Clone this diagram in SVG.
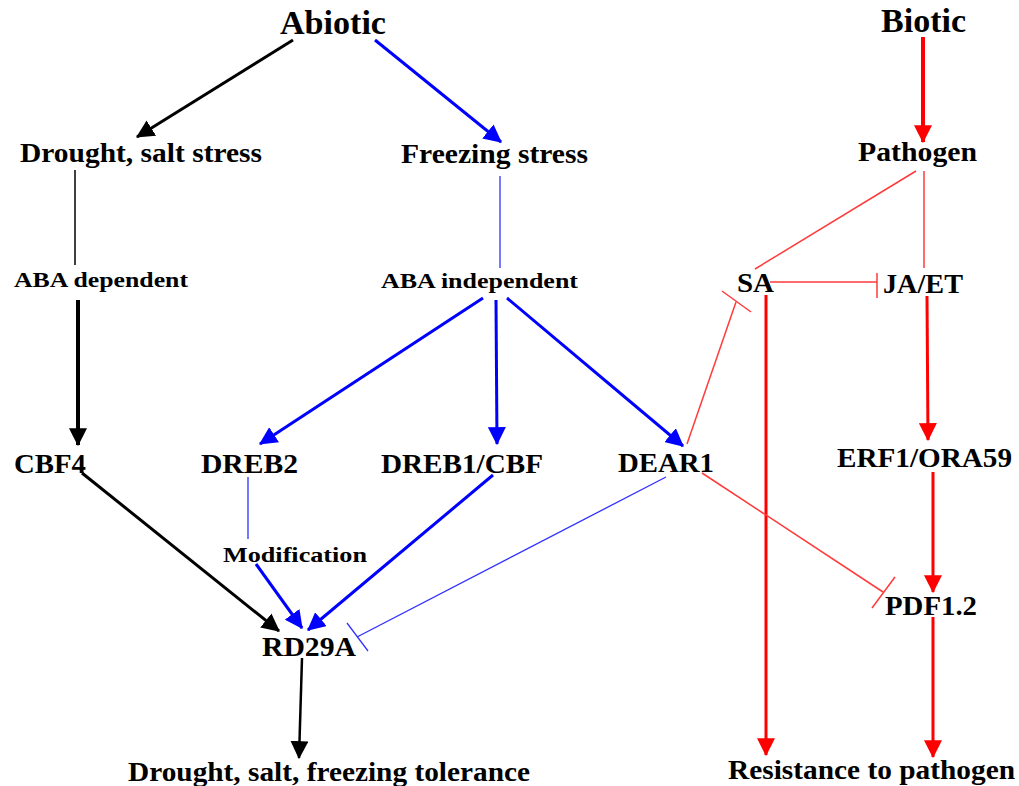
<svg xmlns="http://www.w3.org/2000/svg" width="1019" height="786" viewBox="0 0 1019 786">
<style>
text{font-family:"Liberation Serif","Times New Roman",serif;font-weight:bold;fill:#000;text-anchor:middle}
.big{font-size:33px}
.n{font-size:27px}
.s{font-size:22px}
.k{stroke:#000;fill:none}
.b{stroke:#0000ff;fill:none}
.r{stroke:#ff0000;fill:none}
.tb{stroke:#3030ff;stroke-width:1.3;fill:none}
.tr{stroke:#ff3a3a;stroke-width:1.5;fill:none}
.tk{stroke:#000;stroke-width:1.5;fill:none}
</style>
<defs>
<marker id="ak" markerUnits="userSpaceOnUse" markerWidth="18" markerHeight="18" refX="15" refY="8" orient="auto" viewBox="0 0 16 16"><path d="M0,0 L16,8 L0,16 z" fill="#000"/></marker>
<marker id="ab" markerUnits="userSpaceOnUse" markerWidth="18" markerHeight="18" refX="15" refY="8" orient="auto" viewBox="0 0 16 16"><path d="M0,0 L16,8 L0,16 z" fill="#0000ff"/></marker>
<marker id="ar" markerUnits="userSpaceOnUse" markerWidth="18" markerHeight="18" refX="15" refY="8" orient="auto" viewBox="0 0 16 16"><path d="M0,0 L16,8 L0,16 z" fill="#ff0000"/></marker>
</defs>
<rect width="1019" height="786" fill="#fff"/>
<g id="connectors">
<line class="k" stroke-width="3" x1="293" y1="40" x2="137" y2="137" marker-end="url(#ak)"/>
<line class="b" stroke-width="3" x1="375" y1="40" x2="501" y2="142" marker-end="url(#ab)"/>
<line class="r" stroke-width="4" x1="923" y1="37" x2="923" y2="142" marker-end="url(#ar)"/>
<line class="tk" x1="75" y1="170" x2="75" y2="265"/>
<line class="tb" x1="500" y1="176" x2="500" y2="268"/>
<line class="k" stroke-width="4" x1="78" y1="300" x2="78" y2="445" marker-end="url(#ak)"/>
<line class="b" stroke-width="3" x1="483" y1="298" x2="260" y2="444" marker-end="url(#ab)"/>
<line class="b" stroke-width="3" x1="496" y1="300" x2="497" y2="444" marker-end="url(#ab)"/>
<line class="b" stroke-width="3" x1="507" y1="298" x2="683" y2="446" marker-end="url(#ab)"/>
<line class="tr" x1="916" y1="171" x2="755" y2="269"/>
<line class="tr" x1="924" y1="171" x2="924" y2="268"/>
<line class="tr" x1="770" y1="282" x2="877" y2="282"/>
<line class="tr" x1="877" y1="273" x2="877" y2="298"/>
<line class="r" stroke-width="3" x1="766" y1="295" x2="766" y2="755" marker-end="url(#ar)"/>
<line class="r" stroke-width="3" x1="927" y1="296" x2="928" y2="440" marker-end="url(#ar)"/>
<line class="r" stroke-width="3" x1="933" y1="472" x2="933" y2="592" marker-end="url(#ar)"/>
<line class="r" stroke-width="3" x1="933" y1="617" x2="933" y2="757" marker-end="url(#ar)"/>
<line class="tr" x1="687" y1="444" x2="736" y2="302"/>
<line class="tr" x1="722" y1="291" x2="751" y2="312"/>
<line class="tr" x1="702" y1="473" x2="883" y2="592"/>
<line class="tr" x1="895" y1="577" x2="872" y2="608"/>
<line class="tb" x1="666" y1="477" x2="357" y2="637"/>
<line class="tb" x1="347" y1="623" x2="368" y2="651"/>
<line class="k" stroke-width="3" x1="82" y1="473" x2="279" y2="631" marker-end="url(#ak)"/>
<line class="b" stroke-width="3" x1="256" y1="564" x2="302" y2="628" marker-end="url(#ab)"/>
<line class="b" stroke-width="3" x1="493" y1="475" x2="308" y2="630" marker-end="url(#ab)"/>
<line class="tb" x1="248" y1="477" x2="248" y2="539"/>
<line class="k" stroke-width="2.5" x1="302" y1="658" x2="299" y2="758" marker-end="url(#ak)"/>
</g>
<g id="n-abiotic"><text class="big" x="333" y="34" textLength="106" lengthAdjust="spacingAndGlyphs">Abiotic</text></g>
<g id="n-biotic"><text class="big" x="923.5" y="32" textLength="85" lengthAdjust="spacingAndGlyphs">Biotic</text></g>
<g id="n-drought"><text class="n" x="141" y="162" textLength="242" lengthAdjust="spacingAndGlyphs">Drought, salt stress</text></g>
<g id="n-freezing"><text class="n" x="494.5" y="163" textLength="187" lengthAdjust="spacingAndGlyphs">Freezing stress</text></g>
<g id="n-pathogen"><text class="n" x="917.5" y="161" textLength="119" lengthAdjust="spacingAndGlyphs">Pathogen</text></g>
<g id="n-abadep"><text class="s" x="101" y="287" textLength="174" lengthAdjust="spacingAndGlyphs">ABA dependent</text></g>
<g id="n-abaindep"><text class="s" x="479.5" y="288" textLength="197" lengthAdjust="spacingAndGlyphs">ABA independent</text></g>
<g id="n-sa"><text class="n" x="755.5" y="292" textLength="37" lengthAdjust="spacingAndGlyphs">SA</text></g>
<g id="n-jaet"><text class="n" x="923" y="293" textLength="80" lengthAdjust="spacingAndGlyphs">JA/ET</text></g>
<g id="n-cbf4"><text class="n" x="50" y="473" textLength="72" lengthAdjust="spacingAndGlyphs">CBF4</text></g>
<g id="n-dreb2"><text class="n" x="249.5" y="473" textLength="97" lengthAdjust="spacingAndGlyphs">DREB2</text></g>
<g id="n-dreb1"><text class="n" x="462" y="473" textLength="162" lengthAdjust="spacingAndGlyphs">DREB1/CBF</text></g>
<g id="n-dear1"><text class="n" x="666" y="472" textLength="96" lengthAdjust="spacingAndGlyphs">DEAR1</text></g>
<g id="n-erf1"><text class="n" x="924.5" y="467" textLength="175" lengthAdjust="spacingAndGlyphs">ERF1/ORA59</text></g>
<g id="n-modification"><text class="s" x="295" y="562" textLength="144" lengthAdjust="spacingAndGlyphs">Modification</text></g>
<g id="n-rd29a"><text class="n" x="309" y="656" textLength="94" lengthAdjust="spacingAndGlyphs">RD29A</text></g>
<g id="n-pdf12"><text class="n" x="931" y="615" textLength="92" lengthAdjust="spacingAndGlyphs">PDF1.2</text></g>
<g id="n-tolerance"><text class="n" x="329" y="781" textLength="402" lengthAdjust="spacingAndGlyphs">Drought, salt, freezing tolerance</text></g>
<g id="n-resistance"><text class="n" x="871.5" y="779" textLength="287" lengthAdjust="spacingAndGlyphs">Resistance to pathogen</text></g>
</svg>
